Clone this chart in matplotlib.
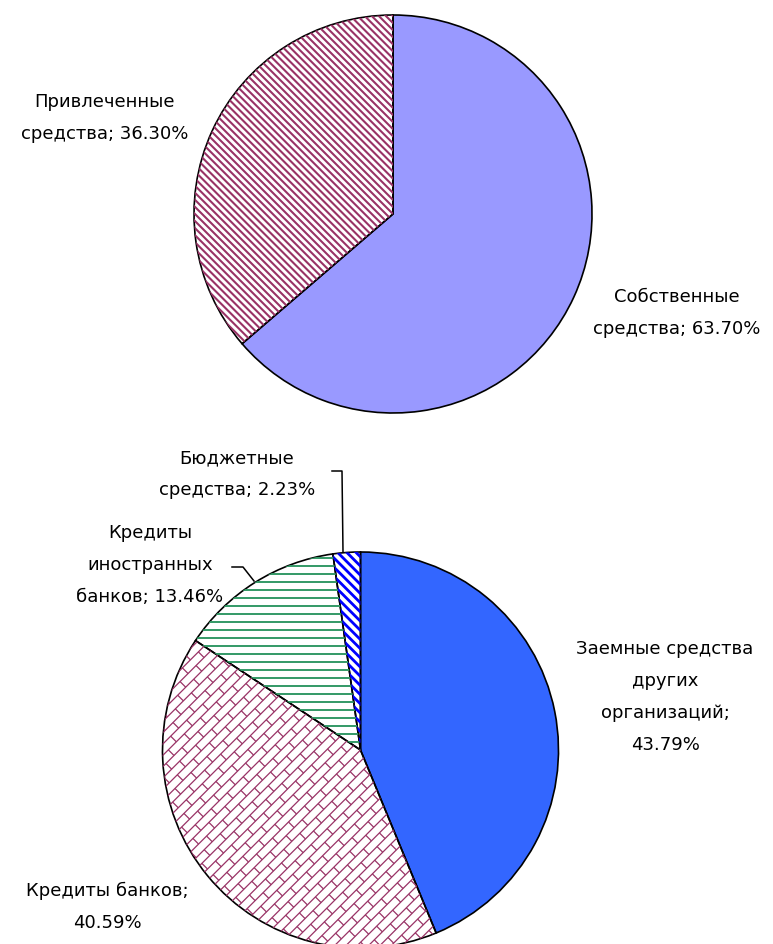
import matplotlib
matplotlib.use("Agg")
import numpy as np
import matplotlib.pyplot as plt
from matplotlib.collections import LineCollection

plt.rcParams['font.family'] = ['DejaVu Sans']

# ---- data ----
top_labels = ["Собственные\nсредства; 63.70%", "Привлеченные\nсредства; 36.30%"]
top_values = [63.70, 36.30]

bot_labels = ["Заемные средства\nдругих\nорганизаций;\n43.79%",
              "Кредиты банков;\n40.59%",
              "Кредиты\nиностранных\nбанков; 13.46%",
              "Бюджетные\nсредства; 2.23%"]
bot_values = [43.79, 40.59, 13.46, 2.23]

# ---- styles ----
# pattern: (kind, angle_deg, spacing_px, linewidth_pt, color)
top_styles = [dict(face="#9999FF", pattern=None),
              dict(face="white", pattern=("lines", -45, 5.0, 1.5, "#993366"))]
bot_styles = [dict(face="#3366FF", pattern=None),
              dict(face="white", pattern=("brick", 45, 8.0, 0.9, "#993366")),
              dict(face="white", pattern=("lines", 0, 8.0, 1.4, "#339966")),
              dict(face="white", pattern=("lines", -45, 6.5, 2.0, "#0000FF"))]

W, H = 773, 945
fig = plt.figure(figsize=(W / 100, H / 100), dpi=100)
ax = fig.add_axes([0, 0, 1, 1])


def pattern_segments(kind, angle, spacing, center, radius):
    a = np.deg2rad(angle)
    u = np.array([np.cos(a), np.sin(a)])
    v = np.array([-np.sin(a), np.cos(a)])
    c = np.array(center, dtype=float)
    n = int(radius / spacing) + 2
    segs = []
    for k in range(-n, n + 1):
        base = c + k * spacing * v
        segs.append([base - 1.2 * radius * u, base + 1.2 * radius * u])
        if kind == "brick":
            L = 2 * spacing * np.sqrt(2)
            m_n = int(1.2 * radius / L) + 2
            off = (k % 2) * L / 2
            for m in range(-m_n, m_n + 1):
                p = base + (m * L + off) * u
                segs.append([p, p + spacing * v])
    return segs


def draw_pie(values, styles, center, radius):
    wedges, _ = ax.pie(values, center=center, radius=radius, startangle=90,
                       counterclock=False, wedgeprops=dict(linewidth=0))
    for w, s in zip(wedges, styles):
        w.set_facecolor(s["face"])
        if s["pattern"]:
            kind, ang, sp, lw, col = s["pattern"]
            lc = LineCollection(pattern_segments(kind, ang, sp, center, radius),
                                colors=col, linewidths=lw, capstyle="butt")
            ax.add_collection(lc)
            lc.set_clip_path(w)
    ax.pie(values, center=center, radius=radius, startangle=90,
           counterclock=False,
           wedgeprops=dict(fill=False, edgecolor="black", linewidth=1.2))


draw_pie(top_values, top_styles, (393, H - 215), 199)
draw_pie(bot_values, bot_styles, (360.5, H - 751), 198)

txt = dict(fontsize=13, ha="center", va="center", multialignment="center",
           linespacing=2.0, color="black")
ax.text(677, H - 313, top_labels[0], **txt)
ax.text(105, H - 118, top_labels[1], **txt)
ax.text(665, H - 697, bot_labels[0], **txt)
ax.text(107, H - 907, bot_labels[1], **txt)
ax.text(150, H - 565, bot_labels[2], **txt)
ax.text(237, H - 474, bot_labels[3], **txt)

# leader lines
ax.plot([332, 342, 343], [H - 472, H - 472, H - 553], color="black", lw=1.1)
ax.plot([232, 243, 254], [H - 568, H - 568, H - 582], color="black", lw=1.1)

ax.set_xlim(0, W)
ax.set_ylim(0, H)
ax.set_aspect("auto")
ax.axis("off")
fig.savefig("out.png", dpi=100)
